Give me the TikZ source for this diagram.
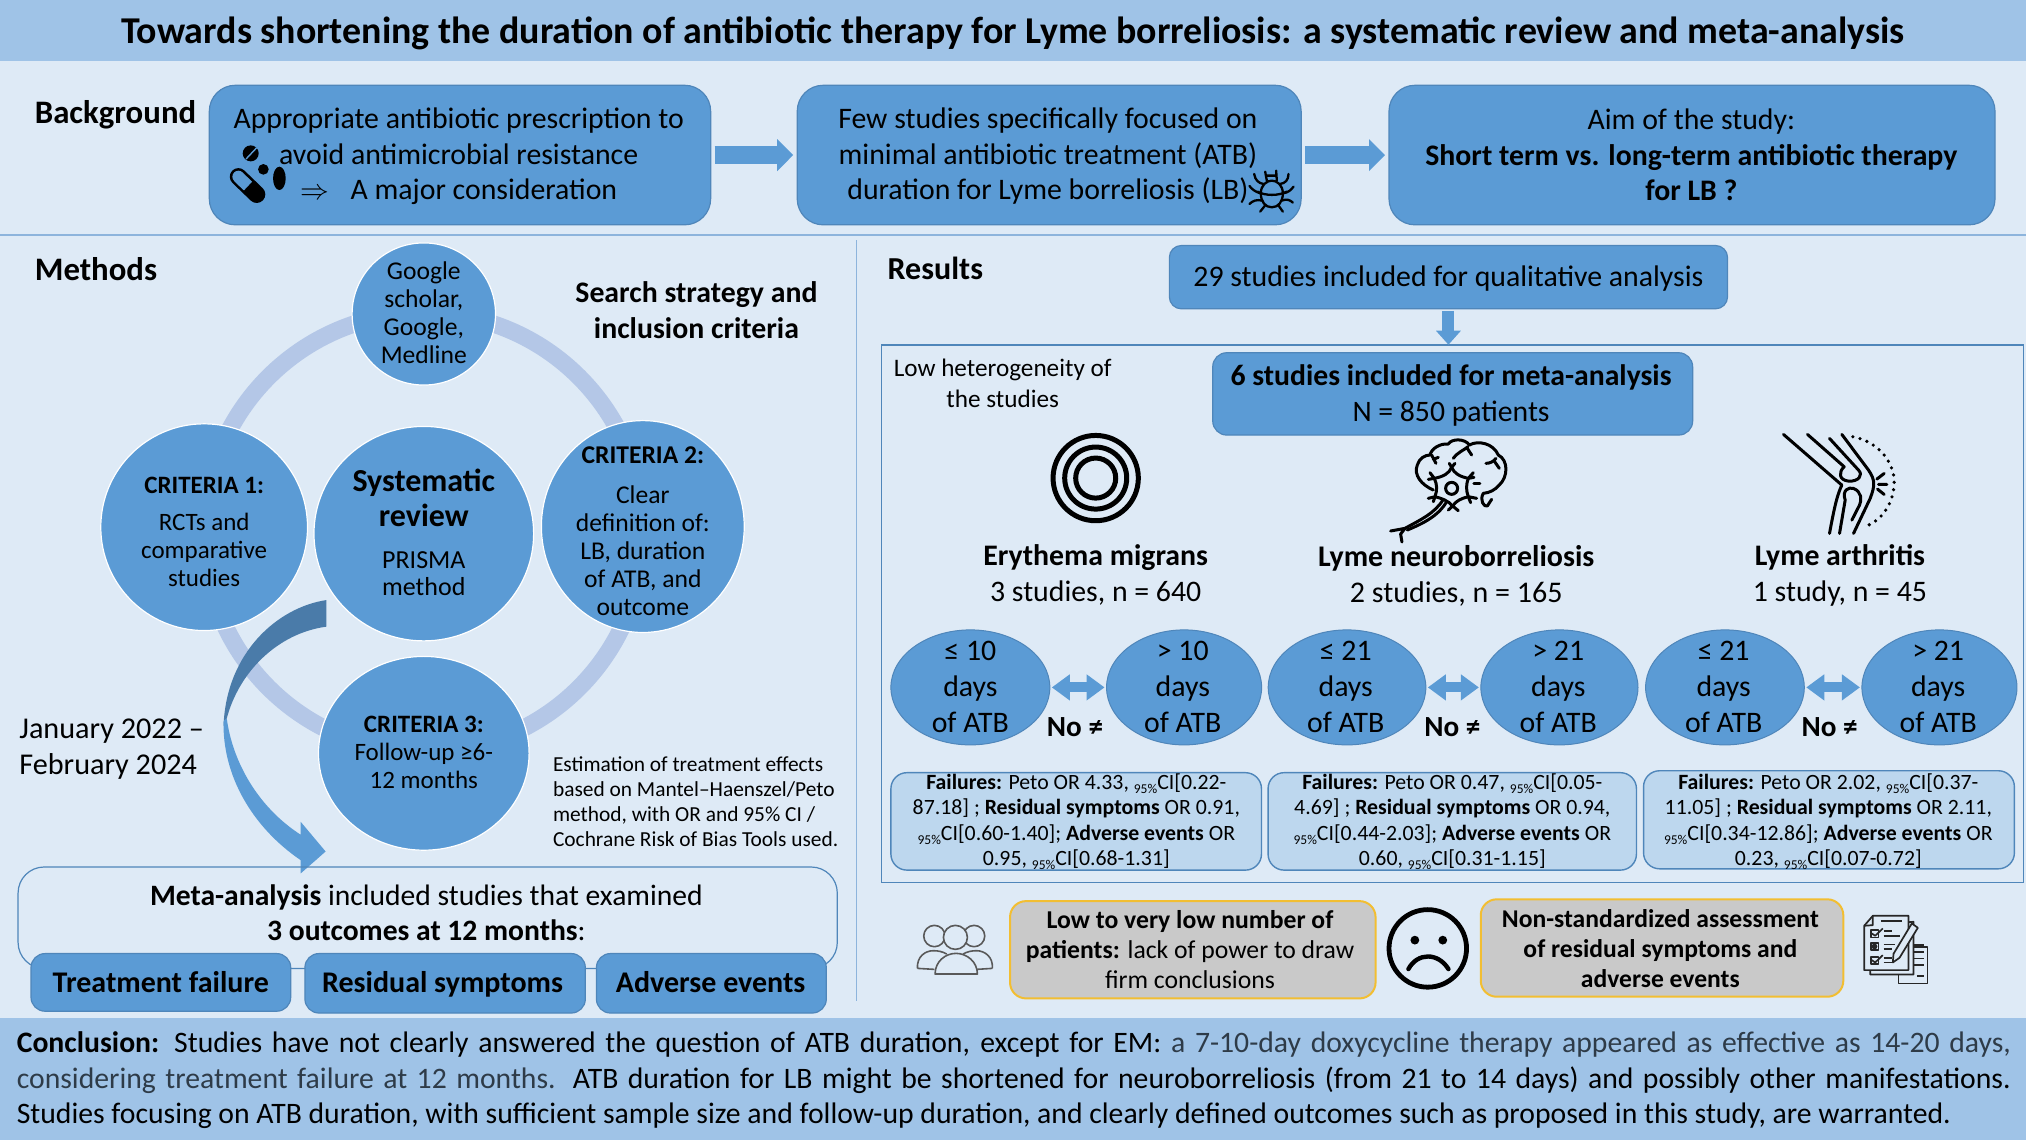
\documentclass[tikz,border=0pt]{standalone}
\usepackage{fontspec}
\setmainfont{Carlito}
\usetikzlibrary{shapes.geometric,arrows.meta,calc}
\newskip\dummyskipa \newskip\dummyskipb
\let\spaceskip\dummyskipa \let\xspaceskip\dummyskipb
\definecolor{bgc}{HTML}{DEEAF6}
\definecolor{band}{HTML}{9FC3E7}
\definecolor{mid}{HTML}{5B9BD5}
\definecolor{edge}{HTML}{4F86BA}
\definecolor{ringc}{HTML}{B4C7E7}
\definecolor{pale}{HTML}{BDD7EE}
\definecolor{rulec}{HTML}{8DB4DC}
\definecolor{greyb}{HTML}{C9C9C9}
\definecolor{gold}{HTML}{F2BE32}
\definecolor{darkarc}{HTML}{4A7BA9}
\definecolor{softk}{HTML}{2E3B48}
\newcommand{\sm}[1]{\raisebox{-0.4ex}{\scalebox{0.62}{#1}}}
\newcommand{\bx}[7]{\node[#1,minimum width={(#5-#3)*0.64605pt},minimum height={(#6-#4)*0.64605pt}] (#2) at ({(#3+#5)/2},{(#4+#6)/2}) {#7};}
\newcommand{\ov}[6]{\node[ellipse,#1,minimum width={2*#5*0.64605pt},minimum height={2*#6*0.64605pt}] (#2) at (#3,#4) {};}
\tikzset{
 every node/.style={inner sep=0pt,outer sep=0pt,align=center},
 f/.style 2 args={font=\fontsize{#1}{#2}\selectfont},
 fb/.style 2 args={font=\fontsize{#1}{#2}\selectfont\bfseries},
 rbox/.style={draw=edge,line width=0.6pt,fill=mid,rectangle,rounded corners=#1},
 rbox/.default=13pt,
 circb/.style={fill=mid,draw=white,line width=0.6pt},
 pill/.style={fill=mid,draw=edge,line width=0.5pt},
 resbox/.style={rectangle,rounded corners=8pt,fill=pale,draw=edge,line width=0.7pt},
 greybox/.style={rectangle,rounded corners=8pt,fill=greyb,draw=gold,line width=1pt},
 blk/.style={draw=black,line width=#1,line cap=round,line join=round},
 blk/.default=1.3pt,
 blockarr/.style={draw=mid,line width=9pt,-{Triangle[length=8pt,width=15.5pt]},shorten >=2pt,shorten <=2pt},
 dblarr/.style={draw=mid,line width=5pt,{Triangle[length=9pt,width=12.5pt]}-{Triangle[length=9pt,width=12.5pt]},shorten >=1pt,shorten <=1pt},
}
\begin{document}
\begin{tikzpicture}[x=0.64605pt,y=-0.64605pt]
\useasboundingbox (0,0) rectangle (1568,882.35);
\fill[bgc] (0,0) rectangle (1568,882.35);
\fill[band] (0,0) rectangle (1568,47);
\fill[band] (0,788) rectangle (1568,882.35);
\draw[rulec,line width=1pt] (0,182) -- (1568,182);
\draw[rulec,line width=0.8pt] (663,186) -- (663,775);
\node[fb={18.95}{19}] (title) at (784,25.5) {Towards shortening the duration of antibiotic therapy for Lyme borreliosis: a systematic review and meta-analysis};
% background
\node[anchor=west,fb={16.4}{16.4}] (bgh) at (27,89) {Background};
\bx{rbox}{bg1}{162}{66}{550}{174}{}
\bx{rbox}{bg2}{617}{66}{1007}{174}{}
\bx{rbox}{bg3}{1075}{66}{1544}{174}{}
\node[f={14.9}{17.8}] (bg1t) at (355,121) {Appropriate antibiotic prescription to\\avoid antimicrobial resistance\\$\Rightarrow$\hspace{0.5em} A major consideration};
\node[f={14.9}{17.8}] (bg2t) at (811,121) {Few studies specifically focused on\\minimal antibiotic treatment (ATB)\\duration for Lyme borreliosis (LB)};
\node[f={14.9}{17.8}] (bg3t) at (1309,120) {Aim of the study:\\\textbf{Short term vs. long-term antibiotic therapy}\\\textbf{for LB ?}};
\draw[blockarr] (bg1.east) -- (bg2.west);
\draw[blockarr] (bg2.east) -- (bg3.west);
% pills
\begin{scope}[shift={(170.3,104.5)},x=.16667pt,y=-.16667pt]
 \fill[black] (92,55) circle [radius=24];
 \draw[mid,line width=.7pt] (78,72) -- (110,38);
 \fill[black] (130,103) circle [radius=16];
 \fill[black] (178,130) ellipse [x radius=19,y radius=35];
 \draw[black,line width=8.6pt,line cap=round] (55,125) -- (110,178);
 \draw[mid,line width=6pt,line cap=round] (55,125) -- (68,138);
 \draw[mid,line width=6pt] (68,138) -- (84,153);
\end{scope}
% bug
\begin{scope}[shift={(959.8,123.8)},x=.16667pt,y=-.16667pt,every path/.append style={blk=1.15pt}]
 \draw (62,100) .. controls (62,75) and (80,62) .. (95,62) .. controls (110,62) and (128,75) .. (128,100) .. controls (128,125) and (115,142) .. (95,142) .. controls (75,142) and (62,125) .. (62,100);
 \draw (52,95) .. controls (75,108) and (115,108) .. (140,95);
 \draw (80,62) -- (75,35) (110,62) -- (108,32) (78,47) -- (108,47);
 \draw (70,72) .. controls (55,70) and (45,60) .. (42,42);
 \draw (120,72) .. controls (135,70) and (145,60) .. (145,42);
 \draw (60,100) .. controls (45,95) and (35,88) .. (28,78);
 \draw (130,100) .. controls (145,97) and (153,90) .. (160,80);
 \draw (66,122) .. controls (50,118) and (38,122) .. (28,132);
 \draw (124,122) .. controls (140,116) and (150,120) .. (158,128);
 \draw (76,135) -- (60,155) (114,135) -- (128,155);
\end{scope}
% methods
\node[anchor=west,fb={16.4}{16.4}] (mh) at (27,208) {Methods};
\node[fb={14.9}{17.6}] (sst) at (539,240) {Search strategy and\\inclusion criteria};
\draw[ringc,line width=8.6pt] (328,412) circle [radius=170];
\ov{circb}{c0}{328}{243}{55.5}{55}
\ov{circb}{c1}{158}{408}{80}{80}
\ov{circb}{c2}{497.5}{407.5}{78.5}{82}
\ov{circb}{c4}{328}{413}{85}{83}
\ov{circb}{c3}{328}{583}{81.5}{75}
\node[f={12.8}{14}] (c0t) at (328,242) {Google\\scholar,\\Google,\\Medline};
\node[f={12.5}{14}] (c1t) at (158,412) {\textbf{CRITERIA 1:}\\[4.5pt]RCTs and\\comparative\\studies};
\node[f={12.8}{14}] (c2t) at (497.5,411) {\textbf{CRITERIA 2:}\\[6pt]Clear\\definition of:\\LB, duration\\of ATB, and\\outcome};
\node[f={12.5}{14}] (c3t) at (328,582) {\textbf{CRITERIA 3:}\\Follow-up ≥6-\\12 months};
\node[fb={16}{17.5}] (c4a) at (328,385.5) {Systematic\\review};
\node[f={13}{13.5}] (c4b) at (328,444) {PRISMA\\method};
\node[anchor=west,align=left,f={15.1}{18}] (dates) at (15,579.5) {January 2022 –\\February 2024};
\fill[darkarc] (252.6,464.4) .. controls (215,470) and (175,505) .. (173,562) -- (175.5,556) .. controls (185,520) and (215,490) .. (252.6,485) -- cycle;
\fill[mid] (173,558) .. controls (172,600) and (195,640) .. (232.7,665.7) -- (232.7,676) -- (252,659) -- (232.7,636) -- (232.7,646) .. controls (200,625) and (180,590) .. (175.5,556) -- cycle;
\node[anchor=west,align=left,f={10.7}{12.6}] (est) at (428,620.5) {Estimation of treatment effects\\based on Mantel–Haenszel/Peto\\method, with OR and 95\% CI /\\Cochrane Risk of Bias Tools used.};
\bx{rectangle,rounded corners=13pt,draw=edge,line width=0.6pt}{meta}{14}{671}{648}{749.5}{}
\node[f={14.8}{17.5}] (metat) at (330,706.5) {\textbf{Meta-analysis} included studies that examined\\\textbf{3 outcomes at 12 months}:};
\bx{rbox=7pt}{o1}{24}{738}{225}{782.6}{}
\bx{rbox=7pt}{o2}{236}{738}{453}{784}{}
\bx{rbox=7pt}{o3}{461.6}{738}{639.5}{784}{}
\node[fb={15}{15}] (o1t) at (124.5,760) {Treatment failure};
\node[fb={15}{15}] (o2t) at (342.5,762) {Residual symptoms};
\node[fb={15}{15}] (o3t) at (550,760) {Adverse events};
% results
\node[anchor=west,fb={16}{16}] (rh) at (687,208) {Results};
\bx{rbox=6pt}{s29}{905}{190}{1337}{239}{}
\node[f={14.9}{14.9}] (s29t) at (1121,215.5) {29 studies included for qualitative analysis};
\draw[edge,line width=0.7pt] (682,267) rectangle (1566,683);
\bx{rbox=7pt}{s6}{938.6}{273}{1310}{336.7}{}
\node[f={14.85}{18}] (s6t) at (1123,306) {\textbf{6 studies included for meta-analysis}\\N = 850 patients};
\draw[draw=mid,line width=6pt,-{Triangle[length=7pt,width=12pt]},shorten >=4pt,shorten <=1pt] (s29.south) -- (s6.north -| s29.south);
\node[f={12.6}{15.5}] (lowh) at (776,297) {Low heterogeneity of\\the studies};
% concentric
\draw[black,line width=2.5pt] (848,370) circle [radius=33] (848,370) circle [radius=24] (848,370) circle [radius=15.5];
\node[f={14.9}{18}] (em) at (848,445) {\textbf{Erythema migrans}\\3 studies, n = 640};
\node[f={15}{18}] (ln) at (1127,446) {\textbf{Lyme neuroborreliosis}\\2 studies, n = 165};
\node[f={14.9}{18}] (la) at (1424,445.5) {\textbf{Lyme arthritis}\\1 study, n = 45};
% brain
\begin{scope}[shift={(1068,332.8)},x=.16667pt,y=-.16667pt,every path/.append style={blk=1.5pt}]
 \draw (160,180) .. controls (125,165) and (100,135) .. (112,105) .. controls (118,85) and (135,75) .. (150,75) .. controls (155,55) and (180,40) .. (205,42) .. controls (215,25) and (255,25) .. (268,45) .. controls (295,30) and (340,40) .. (355,75) .. controls (385,90) and (385,140) .. (358,165) .. controls (345,180) and (330,188) .. (310,190) .. controls (298,210) and (312,232) .. (322,228) -- (335,208);
 \draw (155,75) -- (168,100) (160,88) -- (175,82);
 \draw (220,85) .. controls (235,65) and (250,62) .. (264,50) (262,55) -- (275,75);
 \draw (318,100) .. controls (330,100) and (340,95) .. (348,85) (342,92) -- (358,115);
 \draw (215,175) circle [radius=18];
 \draw (215,112) -- (208,100) (215,112) -- (225,100) (215,112) .. controls (222,130) and (240,140) .. (265,145) -- (280,128) (265,145) -- (282,142);
 \draw (265,145) .. controls (258,165) and (258,180) .. (265,200) -- (290,205) (265,200) -- (272,218);
 \draw (265,200) .. controls (245,205) and (228,212) .. (218,228) -- (205,240) (218,228) -- (235,242);
 \draw (215,112) .. controls (208,130) and (190,140) .. (163,145) -- (150,128) (163,145) -- (145,148);
 \draw (163,145) .. controls (172,165) and (172,180) .. (165,200) -- (145,205) (165,200) -- (160,215);
 \draw (165,200) .. controls (185,205) and (205,212) .. (218,228);
 \draw (282,160) -- (300,160);
 \draw (190,208) .. controls (165,250) and (120,270) .. (75,295) -- (32,303) (75,295) -- (62,312) -- (66,336);
 \draw (200,215) .. controls (175,258) and (130,280) .. (82,300);
\end{scope}
% knee
\begin{scope}[shift={(1370,329)},x=.16667pt,y=-.16667pt,every path/.append style={blk=1.5pt}]
 \draw (40,28) -- (215,180) .. controls (200,210) and (190,260) .. (178,325);
 \draw (112,28) -- (222,125) .. controls (205,140) and (205,165) .. (235,168) .. controls (265,170) and (280,150) .. (265,135) -- (178,40);
 \draw (215,28) -- (295,135) .. controls (315,165) and (315,180) .. (300,220) -- (250,325);
 \draw (208,325) -- (225,225) .. controls (215,195) and (235,185) .. (250,190) .. controls (275,200) and (275,225) .. (268,240) -- (245,285);
 \draw[line width=1.8pt,dash pattern=on 0pt off 3.7pt] (248,35) .. controls (330,50) and (375,120) .. (372,175) .. controls (370,230) and (340,280) .. (295,300);
 \draw (320,162) -- (342,145) (325,178) -- (350,178) (322,192) -- (342,208);
\end{scope}
% ellipses
\ov{pill}{e1}{751}{532}{61.5}{44.5}
\ov{pill}{e2}{916.4}{532}{60}{44.5}
\ov{pill}{e3}{1042.5}{532}{61}{44.5}
\ov{pill}{e4}{1206.9}{532}{60.8}{44.5}
\ov{pill}{e5}{1335}{532}{61.4}{44.5}
\ov{pill}{e6}{1501}{532}{60}{44.5}
\node[f={14.9}{18}] (e1t) at (751,531.5) {≤ 10\\days\\of ATB};
\node[f={14.9}{18}] (e2t) at (915.4,531.5) {> 10\\days\\of ATB};
\node[f={14.9}{18}] (e3t) at (1041.5,531.5) {≤ 21\\days\\of ATB};
\node[f={14.9}{18}] (e4t) at (1206,531.5) {> 21\\days\\of ATB};
\node[f={14.9}{18}] (e5t) at (1334,531.5) {≤ 21\\days\\of ATB};
\node[f={14.9}{18}] (e6t) at (1500,531.5) {> 21\\days\\of ATB};
\draw[dblarr] (e1.east) -- (e2.west);
\draw[dblarr] (e3.east) -- (e4.west);
\draw[dblarr] (e5.east) -- (e6.west);
\node[fb={14.6}{14.6}] (n1) at (832,563) {No ≠};
\node[fb={14.6}{14.6}] (n2) at (1124,563) {No ≠};
\node[fb={14.6}{14.6}] (n3) at (1416,563) {No ≠};
\bx{resbox}{r1}{689.5}{598}{976.3}{673.4}{}
\bx{resbox}{r2}{981.4}{598}{1266.5}{673.4}{}
\bx{resbox}{r3}{1272}{596.5}{1559}{672.4}{}
\node[f={10.9}{12.7}] (r1t) at (833,636) {\textbf{Failures:} Peto OR 4.33, \sm{95\%}CI[0.22-\\87.18] ; \textbf{Residual symptoms} OR 0.91,\\\sm{95\%}CI[0.60-1.40]; \textbf{Adverse events} OR\\0.95, \sm{95\%}CI[0.68-1.31]};
\node[f={10.9}{12.7}] (r2t) at (1124,636) {\textbf{Failures:} Peto OR 0.47, \sm{95\%}CI[0.05-\\4.69] ; \textbf{Residual symptoms} OR 0.94,\\\sm{95\%}CI[0.44-2.03]; \textbf{Adverse events} OR\\0.60, \sm{95\%}CI[0.31-1.15]};
\node[f={10.9}{12.7}] (r3t) at (1415,636) {\textbf{Failures:} Peto OR 2.02, \sm{95\%}CI[0.37-\\11.05] ; \textbf{Residual symptoms} OR 2.11,\\\sm{95\%}CI[0.34-12.86]; \textbf{Adverse events} OR\\0.23, \sm{95\%}CI[0.07-0.72]};
% people
\begin{scope}[shift={(696.6,704.3)},x=.16667pt,y=-.16667pt,every path/.append style={draw=black!65,line width=.8pt,line join=round}]
 \draw (103,78) circle [radius=32];
 \draw (222,78) circle [radius=32];
 \draw (52,175) .. controls (50,140) and (75,122) .. (100,122) .. controls (115,122) and (128,125) .. (140,132) (52,175) -- (103,178);
 \draw (277,175) .. controls (279,140) and (254,122) .. (229,122) .. controls (214,122) and (201,125) .. (189,132) (277,175) -- (230,178);
 \draw[fill=bgc] (166,82) circle [radius=36];
 \draw[fill=bgc] (105,192) .. controls (105,155) and (135,130) .. (168,130) .. controls (200,130) and (232,155) .. (232,192) -- cycle;
\end{scope}
\bx{greybox}{g1}{781.7}{697.4}{1064.6}{772.7}{}
\bx{greybox}{g2}{1146}{696}{1426.6}{771.4}{}
\node[f={12.85}{15}] (g1t) at (921,735) {\textbf{Low to very low number of}\\\textbf{patients:} lack of power to draw\\firm conclusions};
\node[fb={12.8}{15}] (g2t) at (1285,734) {Non-standardized assessment\\of residual symptoms and\\adverse events};
% sad face
\draw[black,line width=2.4pt] (1105,734) circle [radius=30];
\fill[black] (1095,727.6) circle [radius=3.4] (1116.6,727.6) circle [radius=3.4];
\draw[black,line width=2.2pt,line cap=round] (1090,750) .. controls (1097,737) and (1113,737) .. (1121,750);
% clipboards
\begin{scope}[shift={(1431.9,700.5)},x=.16667pt,y=-.16667pt,every path/.append style={draw=black!85,line width=.85pt,line join=round}]
 \draw (145,125) -- (232,125) -- (232,235) -- (145,235) -- cycle;
 \draw[fill=bgc] (60,60) -- (190,50) -- (190,208) -- (60,208) -- cycle;
 \draw[fill=bgc] (42,62) -- (68,32) -- (175,32) -- (175,195) -- (42,195) -- cycle;
 \draw (68,32) -- (68,60) -- (42,62);
 \draw (92,48) -- (155,48);
 \draw (62,75) rectangle (85,97) (100,78) -- (125,78) (100,92) -- (150,92);
 \draw (62,113) rectangle (85,135) (100,118) -- (135,118) (100,132) -- (125,132);
 \draw (62,155) rectangle (85,177) (100,158) -- (125,158) (100,172) -- (130,172);
 \draw (65,85) -- (75,92) -- (98,70);
 \draw (65,165) -- (75,172) -- (98,150);
 \fill[black!85] (73,124) circle [radius=6];
 \draw[fill=bgc] (185,55) -- (203,68) -- (148,158) -- (128,172) -- (130,146) -- cycle;
 \draw (190,120) -- (220,120) (190,140) -- (220,140) (190,160) -- (220,160) (190,180) -- (220,180) (200,212) -- (220,212);
\end{scope}
% conclusion
\node[anchor=north west,text width=997pt,align=left,f={14.85}{17.8}] (concl) at (13,798.5) {%
\hbox to 997pt{\textbf{Conclusion:} Studies have not clearly answered the question of ATB duration, except for EM: {\color{softk}a 7-10-day doxycycline therapy appeared as effective as 14-20 days,}}
\hbox to 997pt{{\color{softk}considering treatment failure at 12 months.} ATB duration for LB might be shortened for neuroborreliosis (from 21 to 14 days) and possibly other manifestations.}
\hbox{Studies focusing on ATB duration, with sufficient sample size and follow-up duration, and clearly defined outcomes such as proposed in this study, are warranted.}};
\end{tikzpicture}
\end{document}
